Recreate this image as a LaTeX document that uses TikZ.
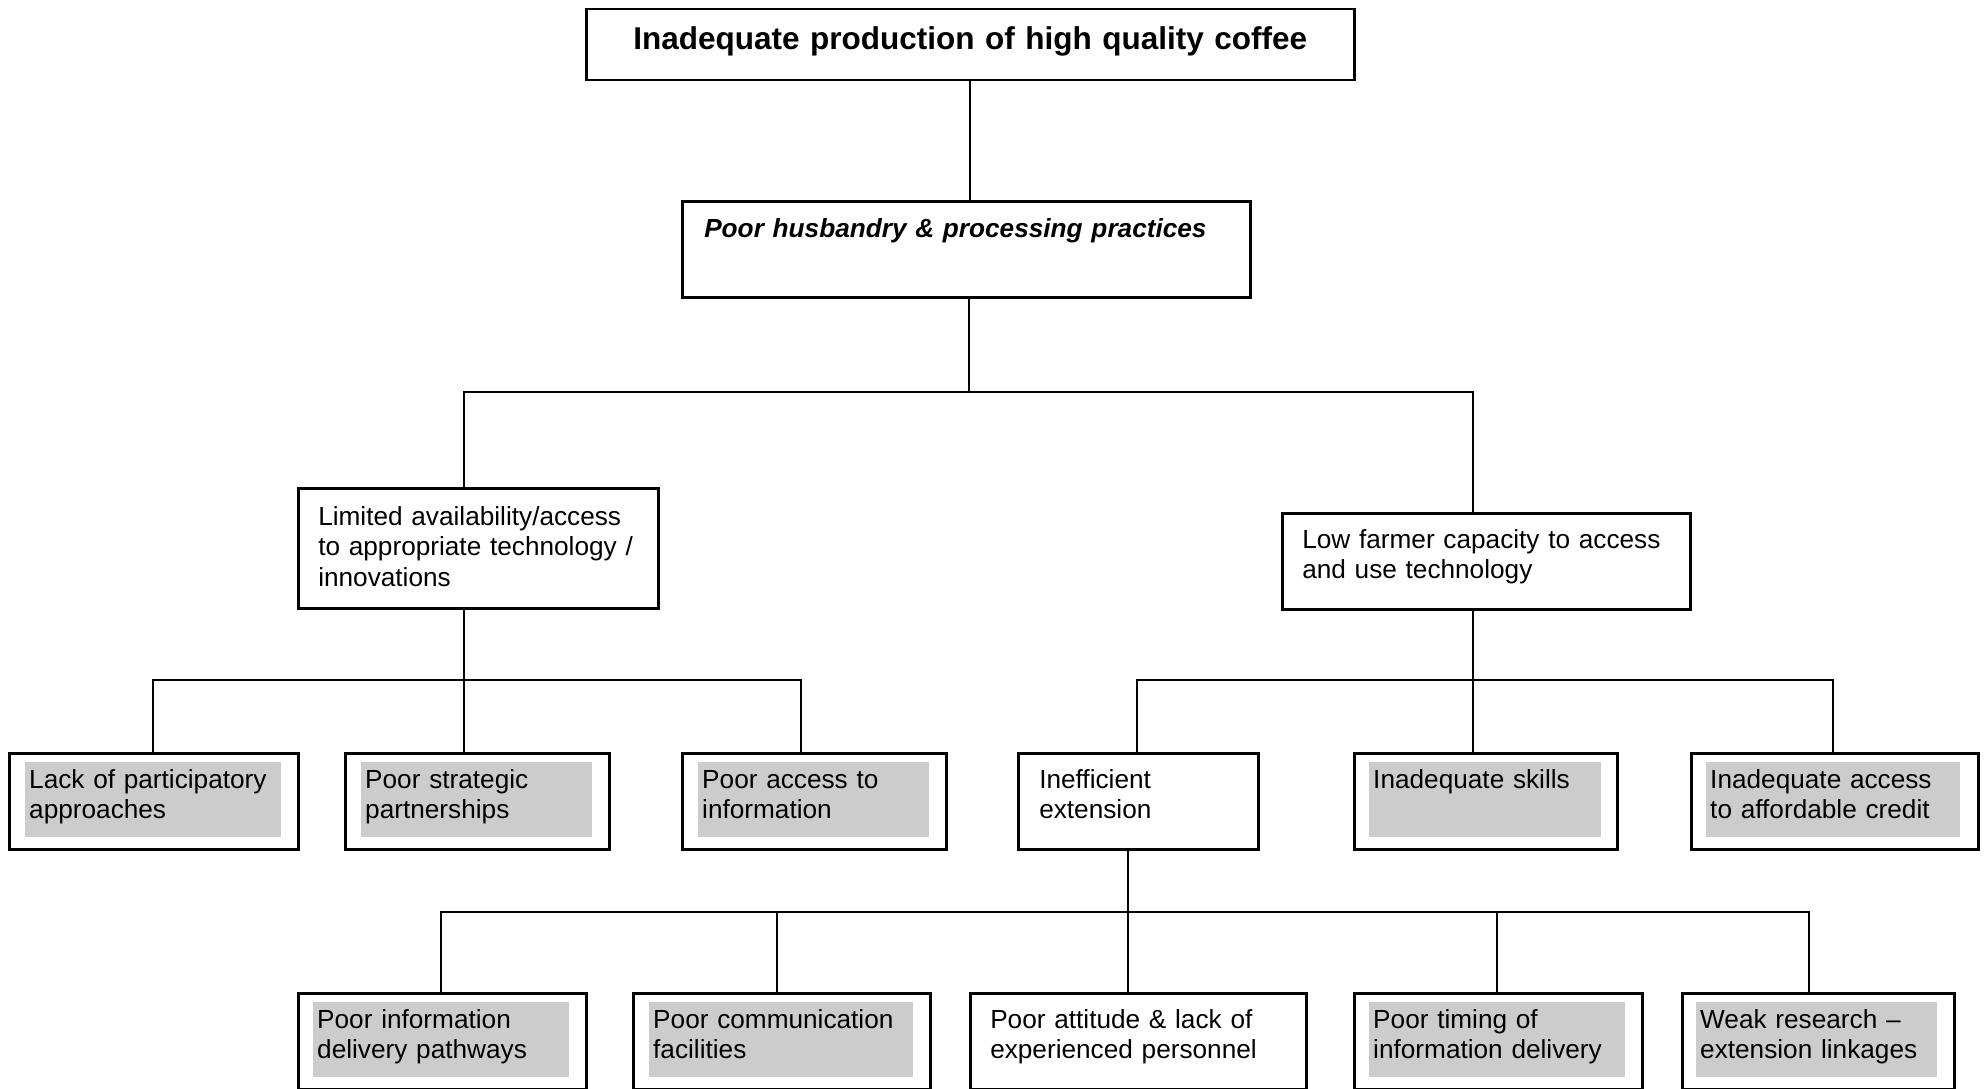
\documentclass[tikz,border=0pt]{standalone}
\usepackage{fontspec}
\setmainfont{Liberation Sans}
\usepackage{xcolor}
\definecolor{shade}{HTML}{CCCCCC}
\usepackage{tikz}
\usetikzlibrary{positioning}
\tikzset{
  box/.style={draw,line width=2.5pt,anchor=north west,align=left,inner xsep=20pt,text height=19pt},
  frame/.style={draw,line width=2.5pt,anchor=north west,inner sep=0pt,minimum height=96pt},
  gbox/.style={fill=shade,anchor=north west,align=left,inner xsep=4pt,inner ysep=7pt,text height=19pt,text depth=42pt},
  link/.style={draw,line width=2.2pt},
}
\begin{document}
\begin{tikzpicture}[x=1pt,y=1pt,every node/.style={font=\fontsize{26.2pt}{30.5pt}\selectfont}]
\useasboundingbox (0,0) rectangle (1986,-1089);
% problem and main cause
\node[box,text width=728pt,align=center,inner ysep=17pt,text height=23pt,text depth=14pt,
  font=\fontsize{31.5pt}{38pt}\selectfont\bfseries] (top) at (585,-8) {Inadequate production of high quality coffee};
\node[box,text width=524pt,inner xsep=22pt,inner ysep=17.5pt,text depth=42pt,
  font=\fontsize{26.2pt}{30.5pt}\selectfont\bfseries\itshape] (husb) at (681,-200) {Poor husbandry \& processing practices};
% second level
\node[box,text width=320pt,inner ysep=18pt,text depth=65pt] (lim) at (297,-487) {Limited availability/access\\to appropriate technology /\\innovations};
\node[box,text width=368pt,inner ysep=16pt,text depth=45pt] (low) at (1281,-512) {Low farmer capacity to access\\and use technology};
% third level
\node[frame,minimum width=289pt] (lack) at (8,-752) {};
\node[gbox,text width=248pt,below right=10pt and 17pt of lack.north west] (lacktx) {Lack of participatory\\approaches};
\node[frame,minimum width=264pt] (strat) at (344,-752) {};
\node[gbox,text width=223pt,below right=10pt and 17pt of strat.north west] (strattx) {Poor strategic\\partnerships};
\node[frame,minimum width=264pt] (info) at (681,-752) {};
\node[gbox,text width=223pt,below right=10pt and 17pt of info.north west] (infotx) {Poor access to\\information};
\node[box,text width=198pt,inner xsep=21pt,inner ysep=16pt,text depth=45pt] (ext) at (1017,-752) {Inefficient\\extension};
\node[frame,minimum width=263pt] (skill) at (1353,-752) {};
\node[gbox,text width=224pt,below right=10pt and 16pt of skill.north west] (skilltx) {Inadequate skills};
\node[frame,minimum width=287pt] (credit) at (1690,-752) {};
\node[gbox,text width=246pt,below right=10pt and 16pt of credit.north west] (credittx) {Inadequate access\\to affordable credit};
% fourth level
\node[frame,minimum width=288pt] (path) at (297,-992) {};
\node[gbox,text width=248pt,below right=10pt and 16pt of path.north west] (pathtx) {Poor information\\delivery pathways};
\node[frame,minimum width=297pt] (comm) at (632,-992) {};
\node[gbox,text width=256pt,below right=10pt and 17pt of comm.north west] (commtx) {Poor communication\\facilities};
\node[box,text width=296pt,inner ysep=16pt,text depth=45pt] (att) at (969,-992) {Poor attitude \& lack of\\experienced personnel};
\node[frame,minimum width=288pt] (time) at (1353,-992) {};
\node[gbox,text width=248pt,below right=10pt and 16pt of time.north west] (timetx) {Poor timing of\\information delivery};
\node[frame,minimum width=272pt] (weak) at (1681,-992) {};
\node[gbox,text width=233pt,below right=10pt and 15pt of weak.north west] (weaktx) {Weak research \textendash\\extension linkages};
% bus points
\coordinate (s1) at (969,-392);
\coordinate (s1a) at (464,-392);
\coordinate (s1b) at (1473,-392);
\coordinate (s2a) at (153,-680);
\coordinate (s2b) at (464,-680);
\coordinate (s2c) at (801,-680);
\coordinate (s3a) at (1137,-680);
\coordinate (s3b) at (1473,-680);
\coordinate (s3c) at (1833,-680);
\coordinate (s4a) at (441,-912);
\coordinate (s4b) at (777,-912);
\coordinate (s4c) at (1128,-912);
\coordinate (s4d) at (1497,-912);
\coordinate (s4e) at (1809,-912);
% connectors
\draw[link] (top.south) -- (husb.north -| top.south);
\draw[link] (husb.south -| s1) -- (s1);
\draw[link] (lim.north -| s1a) -- (s1a) -- (s1b) -- (low.north -| s1b);
\draw[link] (lim.south -| s2b) -- (s2b);
\draw[link] (lack.north -| s2a) -- (s2a) -- (s2c) -- (info.north -| s2c);
\draw[link] (s2b) -- (strat.north -| s2b);
\draw[link] (low.south -| s3b) -- (s3b);
\draw[link] (ext.north -| s3a) -- (s3a) -- (s3c) -- (credit.north -| s3c);
\draw[link] (s3b) -- (skill.north -| s3b);
\draw[link] (ext.south -| s4c) -- (s4c);
\draw[link] (path.north -| s4a) -- (s4a) -- (s4e) -- (weak.north -| s4e);
\draw[link] (s4b) -- (comm.north -| s4b);
\draw[link] (s4c) -- (att.north -| s4c);
\draw[link] (s4d) -- (time.north -| s4d);
\end{tikzpicture}
\end{document}
